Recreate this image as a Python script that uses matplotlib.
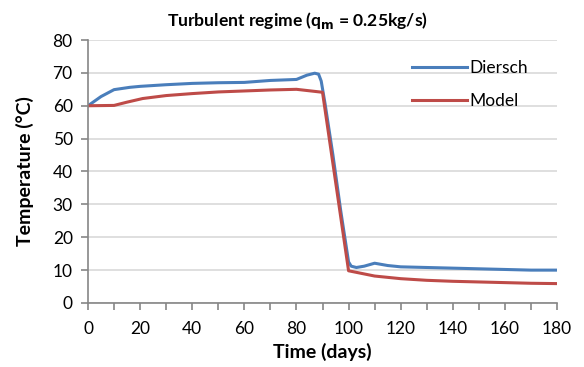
import matplotlib
matplotlib.use("Agg")
import matplotlib.pyplot as plt
from matplotlib.ticker import MultipleLocator

plt.rcParams["font.family"] = ["Lato", "DejaVu Sans"]

# Diersch solution
diersch_days = [0, 5, 10, 16, 20, 30, 40, 50, 60, 70, 80, 84, 87, 88.5, 89.5, 91, 94, 97, 100,
                101, 103, 106, 110, 115, 120, 130, 140, 150, 160, 170, 180]
diersch_temp = [60, 62.8, 64.9, 65.6, 65.9, 66.4, 66.8, 67.0, 67.1, 67.7, 68.0, 69.3, 69.9, 69.6, 67.5, 60.5, 45, 28, 12.5,
                11.2, 10.8, 11.2, 12.1, 11.4, 11.0, 10.8, 10.6, 10.4, 10.2, 10.0, 10.0]

# Model
model_days = [0, 10, 15, 21, 30, 40, 50, 60, 70, 80, 90, 100, 110, 120, 130, 140, 150, 160, 170, 180]
model_temp = [60, 60.1, 61.1, 62.2, 63.1, 63.7, 64.2, 64.5, 64.8, 65.0, 64.1, 9.8, 8.2, 7.4, 6.9, 6.6, 6.4, 6.2, 6.0, 5.9]

fig = plt.figure(figsize=(5.84, 3.67), dpi=100)
ax = fig.add_axes([0.1507, 0.1744, 0.8031, 0.7166])

ax.plot(diersch_days, diersch_temp, color="#4A7EBB", lw=2.2, label="Diersch")
ax.plot(model_days, model_temp, color="#BE4B48", lw=2.2, label="Model")

ax.set_xlim(0, 180)
ax.set_ylim(0, 80)
ax.xaxis.set_major_locator(MultipleLocator(20))
ax.xaxis.set_minor_locator(MultipleLocator(10))
ax.yaxis.set_major_locator(MultipleLocator(10))
ax.grid(axis="y", color="#D9D9D9", lw=1.2)
ax.set_axisbelow(True)

for s in ["top", "right"]:
    ax.spines[s].set_visible(False)
for s in ["left", "bottom"]:
    ax.spines[s].set_color("#868686")
    ax.spines[s].set_linewidth(1.2)
ax.tick_params(which="both", color="#868686", width=1.2, length=5, labelsize=12.5, labelcolor="black")
ax.tick_params(axis="x", pad=8)
ax.tick_params(axis="y", pad=6)

xl = ax.set_xlabel("Time (days)", fontsize=14, fontweight="bold")
xl.set_va("center")
ax.xaxis.set_label_coords(0.5, -0.186)
yl = ax.set_ylabel("Temperature (\u00b0C)", fontsize=14, fontweight="bold")
yl.set_va("center")
ax.yaxis.set_label_coords(-0.134, 0.5)
fig.text(0.5086, 0.945, r"Turbulent regime (q$_\mathbf{m}$ = 0.25kg/s)", ha="center", va="center",
         fontsize=12.6, fontweight="bold")

ax.legend(loc="upper left", bbox_to_anchor=(0.69, 0.925), frameon=False, fontsize=12.5,
          handlelength=3.2, handletextpad=0.15, labelspacing=1.0, borderpad=0, borderaxespad=0)

fig.savefig("out.png", dpi=100)
